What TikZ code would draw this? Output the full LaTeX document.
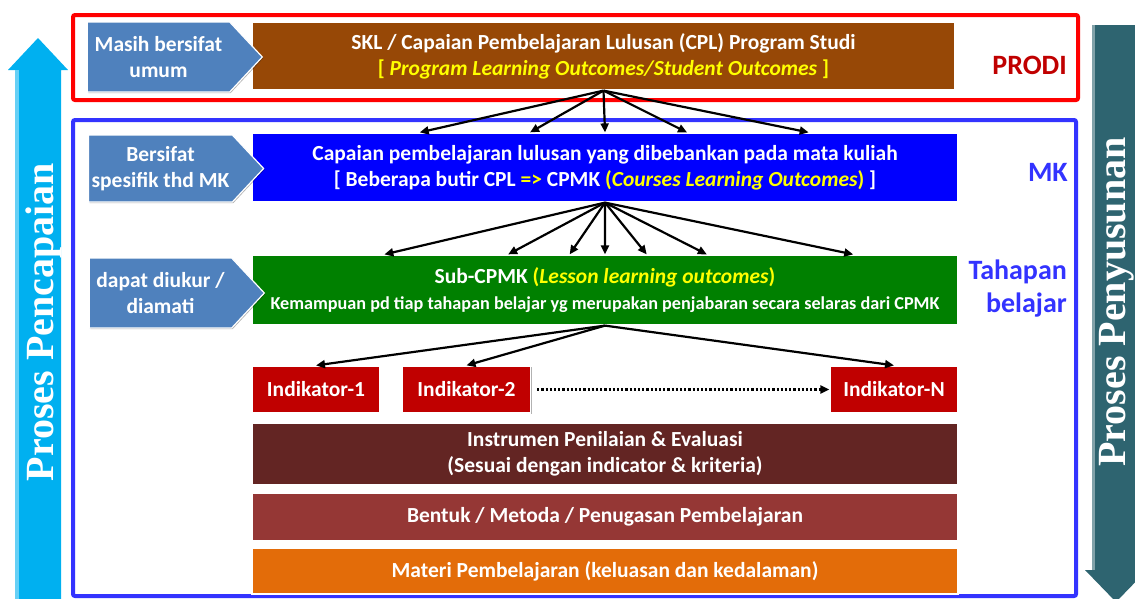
\documentclass[tikz,border=0pt]{standalone}
\usepackage{fontspec}
\setmainfont{Carlito}
\newfontfamily\arrowfont{Liberation Serif}
\usetikzlibrary{calc, shapes.symbols, arrows.meta, shadows}

\definecolor{cplbrown}{HTML}{974806}
\definecolor{cpmkblue}{HTML}{0000FF}
\definecolor{subgreen}{HTML}{008000}
\definecolor{indred}{HTML}{C00000}
\definecolor{instbrown}{HTML}{632523}
\definecolor{bentukred}{HTML}{953735}
\definecolor{materiorange}{HTML}{E36C09}
\definecolor{tagblue}{HTML}{4F81BD}
\definecolor{frameblue}{HTML}{3333FF}
\definecolor{upcyan}{HTML}{00B0F0}
\definecolor{downteal}{HTML}{2E6470}
\definecolor{hiyellow}{HTML}{FFFF00}

\newcommand{\yel}[1]{\textcolor{hiyellow}{#1}}
\newcommand{\mainsize}{\bfseries\fontsize{21.5}{26}\selectfont}

\tikzset{
  box/.style={draw=white, line width=1.2pt, fill=#1, text=white, font=\mainsize,
    align=center, inner sep=0pt,
    drop shadow={shadow xshift=1pt, shadow yshift=-1pt, opacity=.3, fill=black}},
  level/.style={box=#1, minimum width=706pt},
  indbox/.style={box=indred, minimum width=128pt, minimum height=47pt},
  tag/.style={signal, signal to=east, signal pointer angle=94, box=tagblue,
    minimum width=175pt},
  unitlabel/.style={font=\bfseries\fontsize{28}{33}\selectfont, anchor=east,
    align=right, inner sep=0pt},
  link/.style={-{Triangle[length=9pt,width=8pt]}, line width=2.2pt}
}

\begin{document}
\begin{tikzpicture}[x=1pt, y=-1pt]
\clip (0,0) rectangle (1135,598);
% Side arrows
\fill[upcyan] (15,602) -- (15,70) -- (8,70) -- (38,38) -- (68,70) -- (61,70)
  -- (61,602) -- cycle;
\fill[upcyan!60!white] (15,602) -- (15,70) -- (19,70) -- (19,602) -- cycle;
\node[rotate=90, anchor=base, text=white,
  font=\arrowfont\bfseries\fontsize{40}{40}\selectfont] (pencapaian) at (53,322)
  {Proses Pencapaian};
\fill[downteal] (1092,25) -- (1092,570) -- (1085,570) -- (1116,602) -- (1147,570)
  -- (1140,570) -- (1140,25) -- cycle;
\fill[downteal!60!white] (1092,25) -- (1092,570) -- (1095,570) -- (1095,25) -- cycle;
\node[rotate=90, anchor=base, text=white,
  font=\arrowfont\bfseries\fontsize{40}{40}\selectfont] (penyusunan) at (1125,302)
  {Proses Penyusunan};
% Frames for PRODI and MK
\draw[red, line width=4pt, rounded corners=2pt] (73,15) rectangle (1078,100);
\draw[frameblue, line width=4pt, rounded corners=2pt] (73,120) rectangle (1076,596);
% Levels
\node[level=cplbrown, minimum width=703pt, minimum height=68pt] (cpl) at (603.5,56)
  {SKL / Capaian Pembelajaran Lulusan (CPL) Program Studi\\
   \yel{{[} \textit{Program Learning Outcomes/Student Outcomes} ]}};
\node[level=cpmkblue, minimum height=69pt] (cpmk) at (605,167.5)
  {Capaian pembelajaran lulusan yang dibebankan pada mata kuliah\\
   {[} Beberapa butir CPL \yel{=>} CPMK \yel{(\textit{Courses Learning Outcomes})} ]};
\node[level=subgreen, minimum height=70pt] (sub) at (605,290)
  {Sub-CPMK \yel{(\textit{Lesson learning outcomes})}\\
   {\fontsize{18.2}{23}\selectfont Kemampuan pd tiap tahapan belajar yg merupakan
   penjabaran secara selaras dari CPMK}};
\node[indbox] (ind1) at (316,389.5) {Indikator-1};
\node[indbox] (ind2) at (466.5,389.5) {Indikator-2};
\node[indbox] (indN) at (894,389.5) {Indikator-N};
\node[level=instbrown, minimum height=62pt] (instrumen) at (605,454)
  {Instrumen Penilaian \& Evaluasi\\(Sesuai dengan indicator \& kriteria)};
\node[level=bentukred, minimum height=48pt] (bentuk) at (605,517)
  {Bentuk / Metoda / Penugasan Pembelajaran};
\node[level=materiorange, minimum height=46pt] (materi) at (605,571)
  {Materi Pembelajaran (keluasan dan kedalaman)};
% Tags on the left
\node[tag, minimum height=70pt] (umum) at (158.5,57) {Masih bersifat\\umum};
\node[tag, minimum height=67pt] (spesifik) at (160.5,168.5)
  {Bersifat\\spesifik thd MK};
\node[tag, minimum height=70pt] (diukur) at (160.5,293)
  {dapat diukur /\\diamati};
% Labels on the right
\node[unitlabel, text=indred] (prodi) at (1067,65) {PRODI};
\node[unitlabel, text=frameblue] (mk) at (1068,172) {MK};
\node[unitlabel, text=frameblue] (tahapan) at (1067,289) {Tahapan\\belajar};
% CPL to CPMK
\draw[link] (cpl.south) -- ($(cpmk.north west)!.238!(cpmk.north east)$);
\draw[link] (cpl.south) -- ($(cpmk.north west)!.394!(cpmk.north east)$);
\draw[link] (cpl.south) -- ($(cpmk.north west)!.5!(cpmk.north east)$);
\draw[link] (cpl.south) -- ($(cpmk.north west)!.616!(cpmk.north east)$);
\draw[link] (cpl.south) -- ($(cpmk.north west)!.788!(cpmk.north east)$);
% CPMK to Sub-CPMK
\draw[link] (cpmk.south) -- ($(sub.north west)!.188!(sub.north east)$);
\draw[link] (cpmk.south) -- ($(sub.north west)!.363!(sub.north east)$);
\draw[link] (cpmk.south) -- ($(sub.north west)!.45!(sub.north east)$);
\draw[link] (cpmk.south) -- ($(sub.north west)!.5!(sub.north east)$);
\draw[link] (cpmk.south) -- ($(sub.north west)!.559!(sub.north east)$);
\draw[link] (cpmk.south) -- ($(sub.north west)!.644!(sub.north east)$);
\draw[link] (cpmk.south) -- ($(sub.north west)!.851!(sub.north east)$);
% Sub-CPMK to the indicators
\draw[link] (sub.south) -- (ind1.north);
\draw[link] (sub.south) -- (ind2.north);
\draw[link] (sub.south) -- (indN.north);
\draw[link, dotted, shorten <=6pt] (ind2.east) -- (indN.west);
\end{tikzpicture}
\end{document}
